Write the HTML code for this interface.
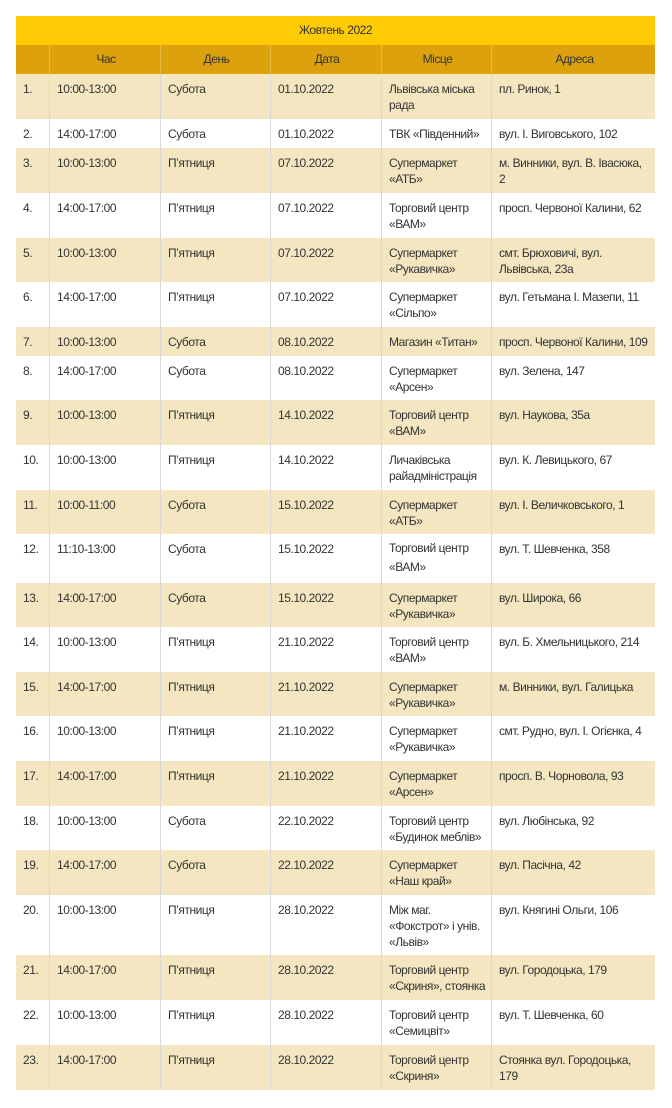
<!DOCTYPE html>
<html><head><meta charset="utf-8"><style>
*{box-sizing:border-box;margin:0;padding:0}
body{width:672px;height:1108px;background:#fff;font-family:"Liberation Sans","DejaVu Sans",sans-serif;font-size:12px;letter-spacing:-0.45px;color:#333;position:relative}
#t{position:absolute;left:16px;top:16px;width:639px}
.title{height:29px;background:#FECB05;text-align:center;line-height:29px;color:#333}
.r{display:flex}
.c{border-left:1px solid #d8d8d8;padding:7px 5px 0 7px;line-height:16px;overflow:hidden}
.c:first-child{border-left:none}
.c:nth-child(1){width:33px}.c:nth-child(2){width:111px}.c:nth-child(3){width:110px}.c:nth-child(4){width:111px}.c:nth-child(5){width:110px}.c:nth-child(6){width:164px}
.h{background:#DCA10C;height:29px}
.h .c{text-align:center;padding-top:6px;border-left-color:#e6b848}
.o{background:#F4E6C0}
.e{background:#fff}
.n{white-space:nowrap}
</style></head><body>
<div id="t">
<div class="title">Жовтень 2022</div>
<div class="r h"><div class="c"></div><div class="c">Час</div><div class="c">День</div><div class="c">Дата</div><div class="c">Місце</div><div class="c">Адреса</div></div>
<div class="r o" style="height:45px"><div class="c">1.</div><div class="c">10:00-13:00</div><div class="c">Субота</div><div class="c">01.10.2022</div><div class="c">Львівська міська<br>рада</div><div class="c">пл. Ринок, 1</div></div>
<div class="r e" style="height:29px"><div class="c">2.</div><div class="c">14:00-17:00</div><div class="c">Субота</div><div class="c">01.10.2022</div><div class="c n">ТВК «Південний»</div><div class="c n">вул. І. Виговського, 102</div></div>
<div class="r o" style="height:45px"><div class="c">3.</div><div class="c">10:00-13:00</div><div class="c">П’ятниця</div><div class="c">07.10.2022</div><div class="c">Супермаркет<br>«АТБ»</div><div class="c"><span class="n">м. Винники, вул. В. Івасюка,</span><br>2</div></div>
<div class="r e" style="height:45px"><div class="c">4.</div><div class="c">14:00-17:00</div><div class="c">П’ятниця</div><div class="c">07.10.2022</div><div class="c">Торговий центр<br>«ВАМ»</div><div class="c n">просп. Червоної Калини, 62</div></div>
<div class="r o" style="height:44px"><div class="c">5.</div><div class="c">10:00-13:00</div><div class="c">П’ятниця</div><div class="c">07.10.2022</div><div class="c">Супермаркет<br>«Рукавичка»</div><div class="c">смт. Брюховичі, вул.<br>Львівська, 23а</div></div>
<div class="r e" style="height:45px"><div class="c">6.</div><div class="c">14:00-17:00</div><div class="c">П’ятниця</div><div class="c">07.10.2022</div><div class="c">Супермаркет<br>«Сільпо»</div><div class="c n">вул. Гетьмана І. Мазепи, 11</div></div>
<div class="r o" style="height:29px"><div class="c">7.</div><div class="c">10:00-13:00</div><div class="c">Субота</div><div class="c">08.10.2022</div><div class="c n">Магазин «Титан»</div><div class="c n">просп. Червоної Калини, 109</div></div>
<div class="r e" style="height:44px"><div class="c">8.</div><div class="c">14:00-17:00</div><div class="c">Субота</div><div class="c">08.10.2022</div><div class="c">Супермаркет<br>«Арсен»</div><div class="c">вул. Зелена, 147</div></div>
<div class="r o" style="height:45px"><div class="c">9.</div><div class="c">10:00-13:00</div><div class="c">П’ятниця</div><div class="c">14.10.2022</div><div class="c">Торговий центр<br>«ВАМ»</div><div class="c">вул. Наукова, 35а</div></div>
<div class="r e" style="height:45px"><div class="c">10.</div><div class="c">10:00-13:00</div><div class="c">П’ятниця</div><div class="c">14.10.2022</div><div class="c n">Личаківська<br>райадміністрація</div><div class="c n">вул. К. Левицького, 67</div></div>
<div class="r o" style="height:44px"><div class="c">11.</div><div class="c">10:00-11:00</div><div class="c">Субота</div><div class="c">15.10.2022</div><div class="c">Супермаркет<br>«АТБ»</div><div class="c n">вул. І. Величковського, 1</div></div>
<div class="r e" style="height:49px"><div class="c">12.</div><div class="c">11:10-13:00</div><div class="c">Субота</div><div class="c">15.10.2022</div><div class="c" style="line-height:19px;padding-top:5px">Торговий центр<br>«ВАМ»</div><div class="c n">вул. Т. Шевченка, 358</div></div>
<div class="r o" style="height:44px"><div class="c">13.</div><div class="c">14:00-17:00</div><div class="c">Субота</div><div class="c">15.10.2022</div><div class="c">Супермаркет<br>«Рукавичка»</div><div class="c">вул. Широка, 66</div></div>
<div class="r e" style="height:45px"><div class="c">14.</div><div class="c">10:00-13:00</div><div class="c">П’ятниця</div><div class="c">21.10.2022</div><div class="c">Торговий центр<br>«ВАМ»</div><div class="c n">вул. Б. Хмельницького, 214</div></div>
<div class="r o" style="height:44px"><div class="c">15.</div><div class="c">14:00-17:00</div><div class="c">П’ятниця</div><div class="c">21.10.2022</div><div class="c">Супермаркет<br>«Рукавичка»</div><div class="c n">м. Винники, вул. Галицька</div></div>
<div class="r e" style="height:45px"><div class="c">16.</div><div class="c">10:00-13:00</div><div class="c">П’ятниця</div><div class="c">21.10.2022</div><div class="c">Супермаркет<br>«Рукавичка»</div><div class="c n">смт. Рудно, вул. І. Огієнка, 4</div></div>
<div class="r o" style="height:45px"><div class="c">17.</div><div class="c">14:00-17:00</div><div class="c">П’ятниця</div><div class="c">21.10.2022</div><div class="c">Супермаркет<br>«Арсен»</div><div class="c n">просп. В. Чорновола, 93</div></div>
<div class="r e" style="height:44px"><div class="c">18.</div><div class="c">10:00-13:00</div><div class="c">Субота</div><div class="c">22.10.2022</div><div class="c n">Торговий центр<br>«Будинок меблів»</div><div class="c">вул. Любінська, 92</div></div>
<div class="r o" style="height:45px"><div class="c">19.</div><div class="c">14:00-17:00</div><div class="c">Субота</div><div class="c">22.10.2022</div><div class="c">Супермаркет<br>«Наш край»</div><div class="c">вул. Пасічна, 42</div></div>
<div class="r e" style="height:60px"><div class="c">20.</div><div class="c">10:00-13:00</div><div class="c">П’ятниця</div><div class="c">28.10.2022</div><div class="c n">Між маг.<br>«Фокстрот» і унів.<br>«Львів»</div><div class="c n">вул. Княгині Ольги, 106</div></div>
<div class="r o" style="height:45px"><div class="c">21.</div><div class="c">14:00-17:00</div><div class="c">П’ятниця</div><div class="c">28.10.2022</div><div class="c n">Торговий центр<br>«Скриня», стоянка</div><div class="c">вул. Городоцька, 179</div></div>
<div class="r e" style="height:45px"><div class="c">22.</div><div class="c">10:00-13:00</div><div class="c">П’ятниця</div><div class="c">28.10.2022</div><div class="c">Торговий центр<br>«Семицвіт»</div><div class="c">вул. Т. Шевченка, 60</div></div>
<div class="r o" style="height:45px"><div class="c">23.</div><div class="c">14:00-17:00</div><div class="c">П’ятниця</div><div class="c">28.10.2022</div><div class="c">Торговий центр<br>«Скриня»</div><div class="c">Стоянка вул. Городоцька,<br>179</div></div>
</div>
</body></html>
